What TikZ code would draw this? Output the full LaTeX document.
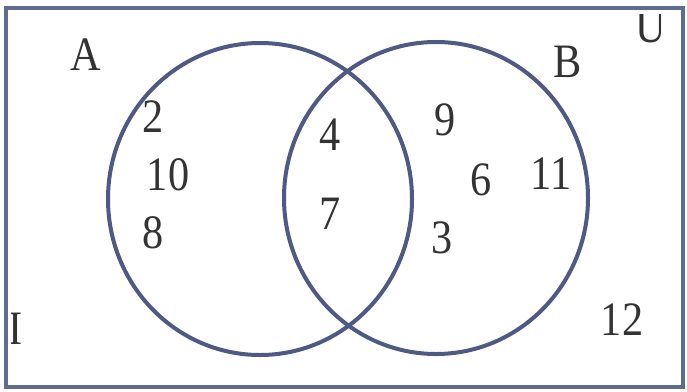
\documentclass[tikz,border=0pt]{standalone}
\usepackage{fontspec}
\setmainfont[FakeStretch=0.88]{Liberation Serif}
\usetikzlibrary{shapes.geometric}
\definecolor{linec}{HTML}{4E5A84}
\definecolor{txt}{HTML}{333333}
\begin{document}
\begin{tikzpicture}[x=1pt,y=-1pt,
  lbl/.style={text=txt,font=\fontsize{48}{48}\selectfont,inner sep=0pt},
  setc/.style={draw=linec,line width=4pt}]
\useasboundingbox (0,0) rectangle (687,391);
\fill[white] (0,0) rectangle (687,391);
\begin{scope}
\clip (8,14) rectangle (681,385);
\node[lbl] (U) at (651,27) {U};
\end{scope}
\begin{scope}
\clip (11,10) rectangle (681,385);
\node[lbl] (I) at (15.5,329) {I};
\end{scope}
\node[setc,ellipse,minimum width=304pt,minimum height=312pt,inner sep=0pt] (A) at (260,199) {};
\node[setc,ellipse,minimum width=304pt,minimum height=312pt,inner sep=0pt] (B) at (436,198) {};
\draw[draw=linec!90!white,line width=4pt] (6,8) rectangle (683,387);
\node[lbl] (lA) at (86,55) {A};
\node[lbl] (lB) at (568,62) {B};
\node[lbl] (n2) at (153,117) {2};
\node[lbl] (n10) at (168,175) {10};
\node[lbl] (n8) at (153,233) {8};
\node[lbl] (n4) at (330,135) {4};
\node[lbl] (n7) at (330,214) {7};
\node[lbl] (n9) at (445,120) {9};
\node[lbl] (n6) at (481,180) {6};
\node[lbl] (n11) at (551,174) {11};
\node[lbl] (n3) at (442,238) {3};
\node[lbl] (n12) at (622,320) {12};
\end{tikzpicture}
\end{document}
